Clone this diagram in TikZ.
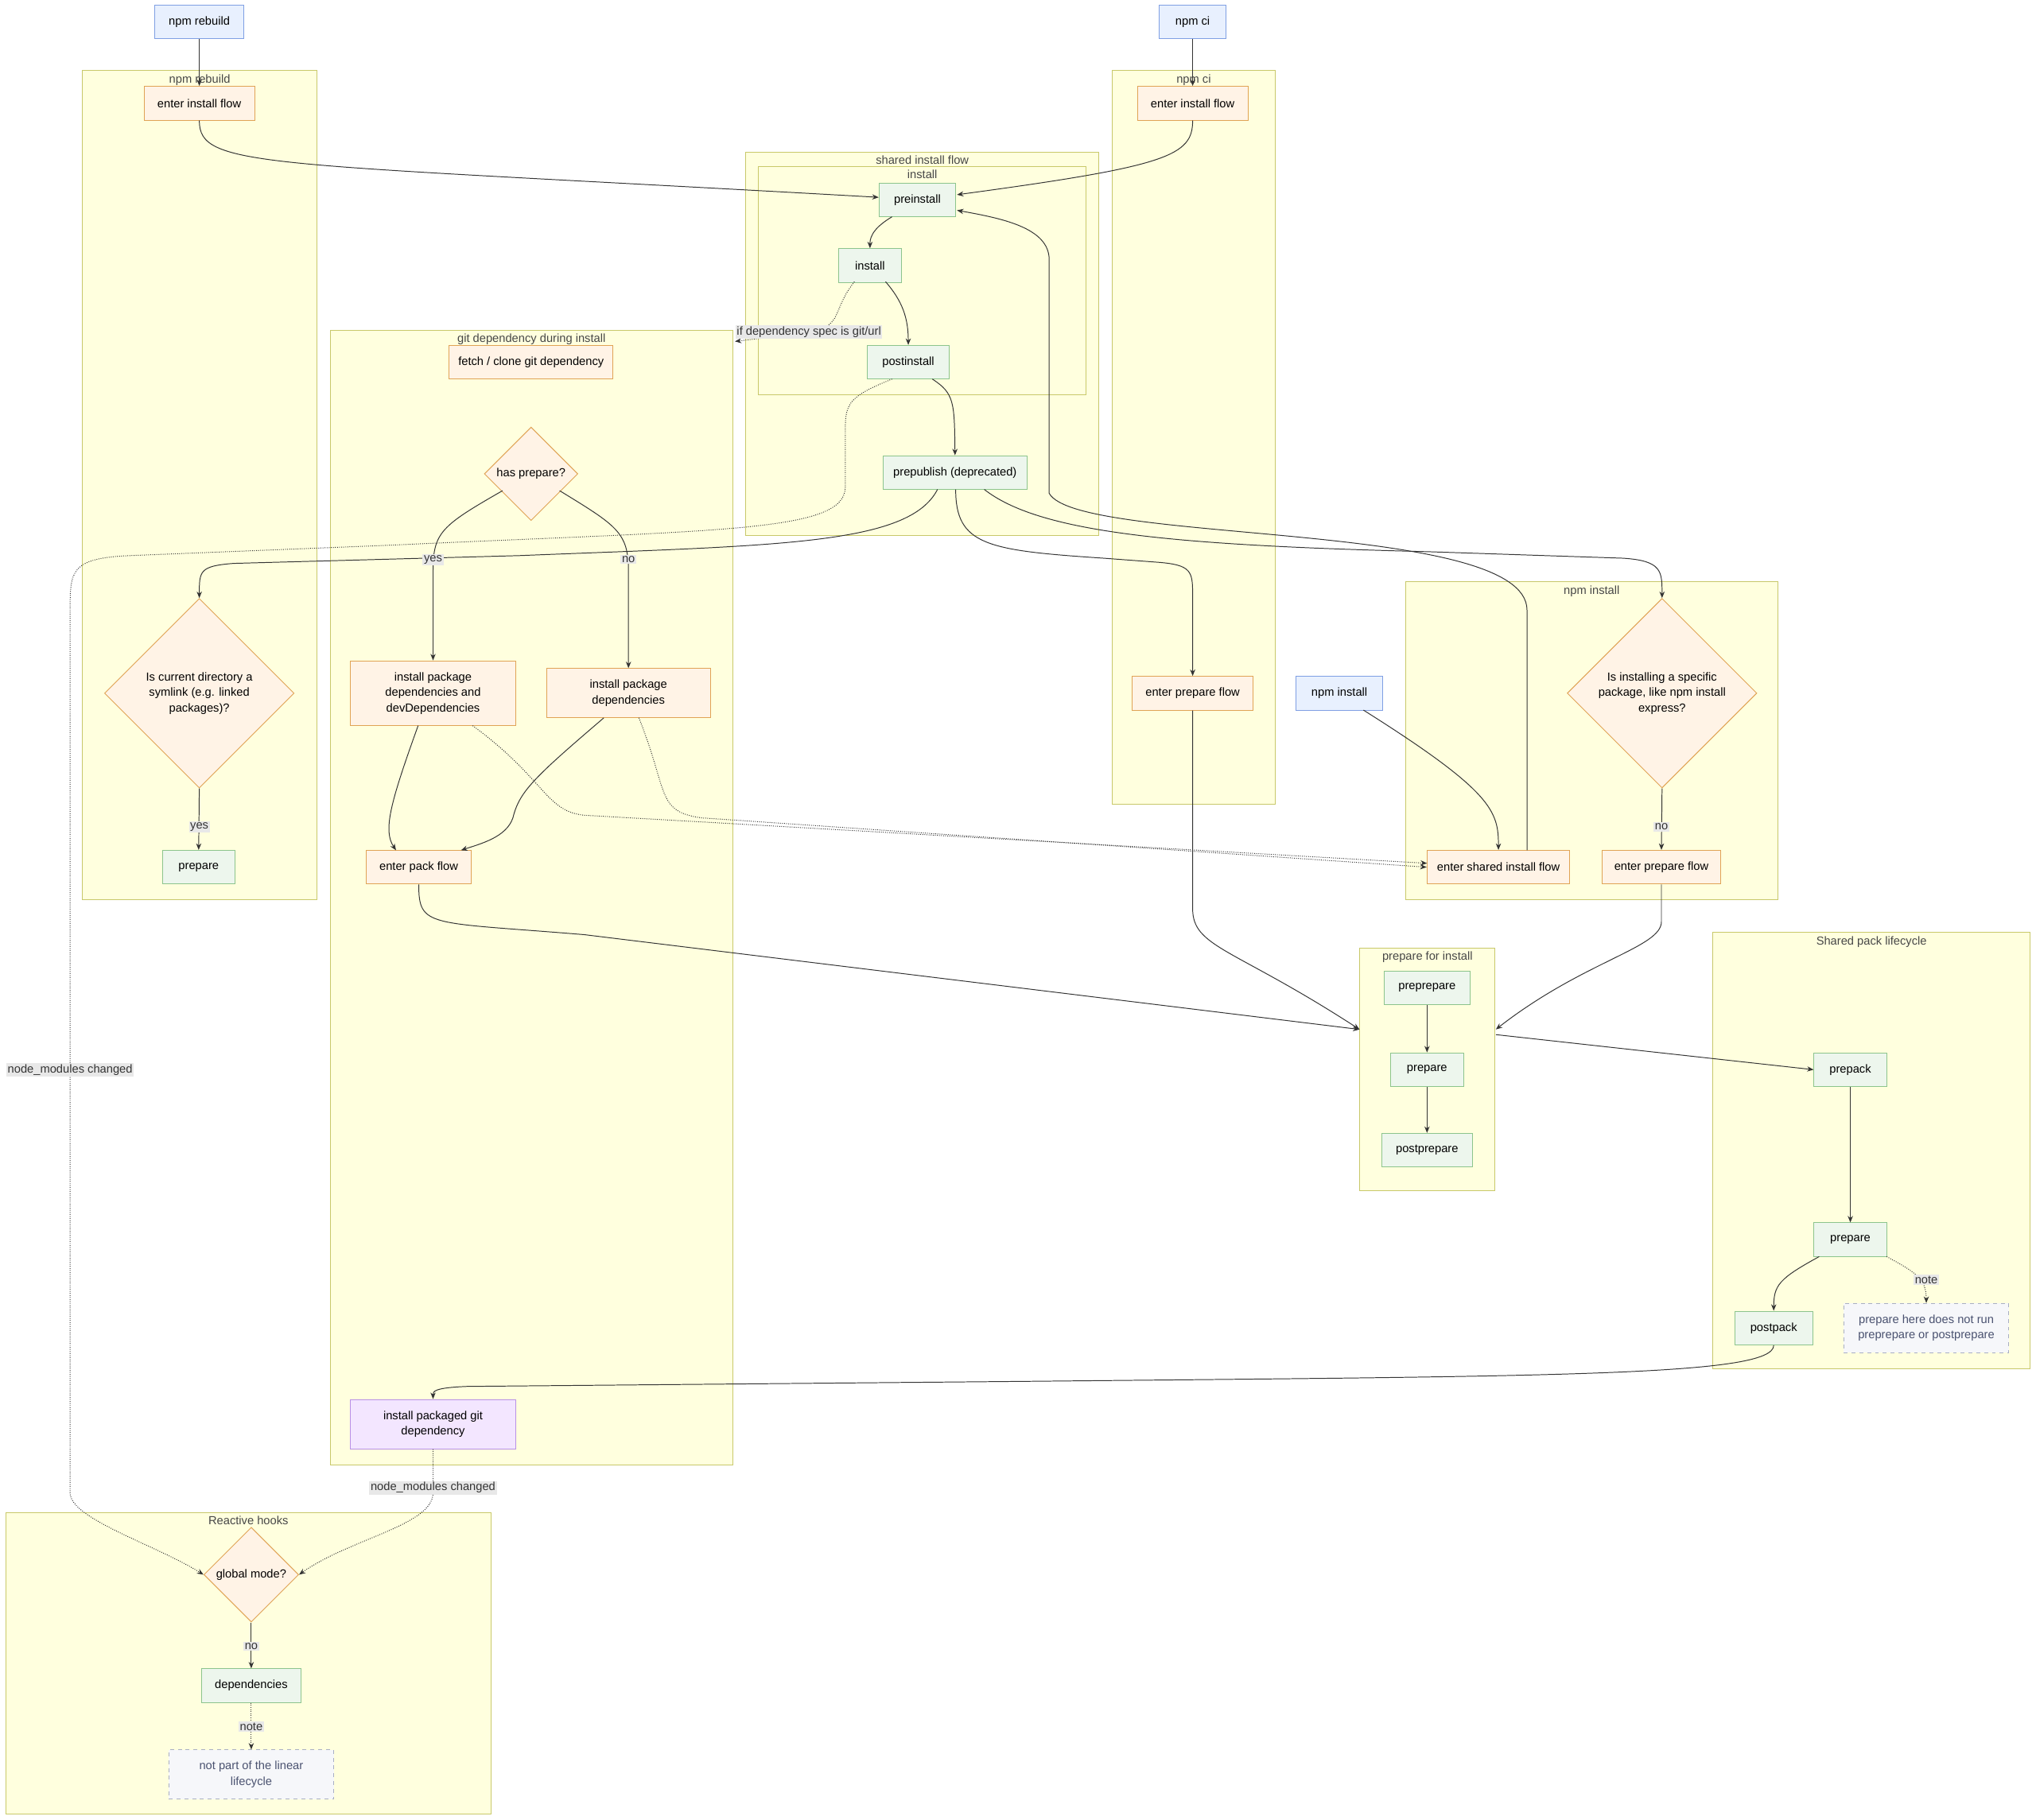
\documentclass[tikz,border=0pt]{standalone}
\usepackage{fontspec}
\setmainfont{Liberation Sans}
\usetikzlibrary{shapes.geometric,arrows.meta}
\definecolor{clf}{HTML}{FFFFDE}\definecolor{cls}{HTML}{C8C86A}
\definecolor{gf}{HTML}{EDF6ED}\definecolor{gs}{HTML}{8CC48C}
\definecolor{of}{HTML}{FFF3E6}\definecolor{os}{HTML}{E0A355}
\definecolor{bf}{HTML}{E8F0FE}\definecolor{bs}{HTML}{7F9FE3}
\definecolor{pf}{HTML}{F3E6FF}\definecolor{ps}{HTML}{B890E6}
\definecolor{nf}{HTML}{F6F7FA}\definecolor{ns}{HTML}{A8AEC4}\definecolor{nt}{HTML}{4A5270}
\definecolor{lb}{HTML}{E8E8E8}\definecolor{ln}{HTML}{333333}
\tikzset{
 base/.style={font=\fontsize{9}{12}\selectfont, inner sep=0pt, align=center, minimum height=26pt, line width=0.6pt},
 gbox/.style={base, draw=gs, fill=gf},
 obox/.style={base, draw=os, fill=of},
 bbox/.style={base, draw=bs, fill=bf},
 pbox/.style={base, draw=ps, fill=pf},
 nbox/.style={base, draw=ns, fill=nf, dashed, text=nt},
 dia/.style={base, draw=os, fill=of, shape=diamond, aspect=1},
 cluster/.style={draw=cls, fill=clf, line width=0.6pt, anchor=north west, inner sep=0pt},
 ctitle/.style={font=\fontsize{9}{11}\selectfont, text=ln!90, anchor=north, inner sep=0pt},
 lab/.style={font=\fontsize{9}{11}\selectfont, fill=lb, inner sep=1pt, text=ln},
 ed/.style={draw=ln, line width=0.6pt, -{Stealth[length=5pt,width=4pt]}},
 dt/.style={ed, densely dotted},
}
\newcommand\clus[6]{\node[cluster, minimum width=#4pt, minimum height=#5pt] (#1) at (#2,#3) {};
 \node[ctitle] at ($(#1.north)+(0,-3pt)$) {#6};}
\usetikzlibrary{calc}
\begin{document}
\begin{tikzpicture}[x=1pt,y=-1pt]
\useasboundingbox (0,0) rectangle (1568,1402);
\fill[white] (0,0) rectangle (1568,1402);
\clus{crb}{63}{54}{181}{639}{npm rebuild}
\clus{cci}{856}{54}{126}{565}{npm ci}
\clus{csh}{574}{117}{272}{295}{shared install flow}
\clus{cin}{584}{128}{252}{176}{install}
\clus{cgit}{254}{254}{310}{874}{git dependency during install}
\clus{cni}{1082}{448}{287}{245}{npm install}
\clus{cpr}{1047}{730}{104}{187}{prepare for install}
\clus{cpk}{1319}{718}{244}{336}{Shared pack lifecycle}
\clus{crh}{4}{1165}{374}{232}{Reactive hooks}

\node[bbox, minimum width=69pt] (nrb) at (153.5,17) {npm rebuild};
\node[bbox, minimum width=51pt] (nci) at (918.5,17) {npm ci};
\node[obox, minimum width=85pt] (rbe) at (153.5,79.5) {enter install flow};
\node[obox, minimum width=85pt] (cie) at (918.5,79.5) {enter install flow};
\node[gbox, minimum width=59pt] (pre) at (706.5,154) {preinstall};
\node[gbox, minimum width=48pt] (ins) at (670,204.5) {install};
\node[gbox, minimum width=63pt] (post) at (699.5,279) {postinstall};
\node[gbox, minimum width=111pt] (pub) at (735.5,364) {prepublish (deprecated)};
\node[obox, minimum width=126pt] (fetch) at (409,279) {fetch / clone git dependency};
\node[dia, minimum width=72pt, minimum height=72pt] (hp) at (409,365) {has prepare?};
\node[obox, minimum width=127pt, minimum height=50pt] (idev) at (333.5,534) {install package\\dependencies and\\devDependencies};
\node[obox, minimum width=126pt, minimum height=38pt] (idep) at (484,534) {install package\\dependencies};
\node[obox, minimum width=81pt] (pack) at (322.5,668) {enter pack flow};
\node[pbox, minimum width=127pt, minimum height=38pt] (igit) at (333.5,1097) {install packaged git\\dependency};
\node[dia, minimum width=146pt, minimum height=146pt] (sym) at (153.5,534) {Is current directory a\\symlink (e.g. linked\\packages)?};
\node[gbox, minimum width=56pt] (rbp) at (153,668) {prepare};
\node[obox, minimum width=93pt] (cipf) at (918.5,534) {enter prepare flow};
\node[bbox, minimum width=67pt] (nni) at (1031.5,534) {npm install};
\node[dia, minimum width=146pt, minimum height=146pt] (spec) at (1280,534) {Is installing a specific\\package, like npm install\\express?};
\node[obox, minimum width=110pt] (shf) at (1154,668) {enter shared install flow};
\node[obox, minimum width=91pt] (nipf) at (1279.5,668) {enter prepare flow};
\node[gbox, minimum width=66pt] (pp) at (1099,761) {preprepare};
\node[gbox, minimum width=56pt] (p2) at (1099,824) {prepare};
\node[gbox, minimum width=70pt] (pop) at (1099,886) {postprepare};
\node[gbox, minimum width=56pt] (pk) at (1425,824) {prepack};
\node[gbox, minimum width=56pt] (p3) at (1425,955) {prepare};
\node[gbox, minimum width=60pt] (ppk) at (1366,1023) {postpack};
\node[nbox, minimum width=127pt, minimum height=38pt] (n1) at (1483.5,1023) {prepare here does not run\\preprepare or postprepare};
\node[dia, minimum width=73pt, minimum height=73pt] (gm) at (193.5,1213) {global mode?};
\node[gbox, minimum width=77pt] (deps) at (193.5,1298.5) {dependencies};
\node[nbox, minimum width=127pt, minimum height=38pt] (n2) at (193.5,1367) {not part of the linear\\lifecycle};

\coordinate (gitin) at (566,263);
\coordinate (prW) at (1047,793);
\coordinate (prE) at (1152,793);
\coordinate (prO) at (1152,797);

\draw[ed] (nrb) -- (rbe);
\draw[ed] (nci) -- (cie);
\draw[ed] (rbe.south) .. controls (153.5,130) and (200,125) .. (pre.west |- 0,152);
\draw[ed] (cie.south) .. controls (918.5,120) and (900,128) .. (737,150);
\draw[ed] (687,167) .. controls (670,177) and (670,185) .. (ins.north);
\draw[ed] (682,217) .. controls (695,232) and (699.5,245) .. (post.north);
\draw[dt] (658,217) .. controls (640,240) and (650,250) .. (624,256) -- (gitin) node[lab, pos=0.05, anchor=west, xshift=4pt] {};
\node[lab] at (623,256) {if dependency spec is git/url};
\draw[ed] (718,292) .. controls (735,303) and (735,310) .. (pub.north);
\draw[dt] (687,292) .. controls (655,305) and (651,310) .. (651,330) -- (651,375) .. controls (651,410) and (560,408) .. (300,420) -- (100,428) .. controls (54,430) and (54,440) .. (54,470) -- (54,1150) .. controls (54,1170) and (120,1190) .. (gm.west);
\node[lab] at (54,824) {node\_modules changed};
\draw[ed] (722,377) .. controls (700,420) and (600,420) .. (400,428) -- (180,434) .. controls (153.5,436) and (153.5,440) .. (sym.north);
\draw[ed] (736,377) .. controls (736,420) and (760,424) .. (850,430) -- (890,433) .. controls (918.5,435) and (918.5,440) .. (918.5,460) -- (cipf.north);
\draw[ed] (758,377) .. controls (800,410) and (900,420) .. (1100,425) -- (1250,430) .. controls (1280,432) and (1280,440) .. (spec.north);
\draw[ed] (1176,655) -- (1176,470) .. controls (1176,400) and (830,420) .. (808,380) -- (808,200) .. controls (808,175) and (770,168) .. (737,162);
\draw[ed] (387,378) .. controls (340,405) and (333.5,410) .. (333.5,440) -- (idev.north);
\draw[ed] (431,378) .. controls (475,405) and (484,410) .. (484,440) -- (idep.north);
\node[lab] at (333.5,431) {yes};
\node[lab] at (484,431) {no};
\draw[ed] (322,559) .. controls (300,620) and (295,640) .. (305,655);
\draw[ed] (465,553) .. controls (410,600) and (400,610) .. (395,630) .. controls (390,645) and (370,650) .. (355,655);
\draw[dt] (364,559) .. controls (420,600) and (420,625) .. (450,628) -- (1099,665);
\draw[dt] (492,553) .. controls (515,610) and (505,625) .. (540,630) -- (shf.west);
\draw[ed] (sym.south) -- (rbp.north);
\node[lab] at (153.5,637) {yes};
\draw[ed] (1050,547) .. controls (1150,610) and (1154,625) .. (shf.north);
\draw[ed] (spec.south) -- (nipf.north);
\node[lab] at (1279.5,637) {no};
\draw[ed] (pack.south) .. controls (322.5,715) and (330,710) .. (450,720) -- (prW);
\draw[ed] (cipf.south) -- (918.5,700) .. controls (918.5,730) and (950,730) .. (prW);
\draw[ed] (nipf.south) -- (1279.5,710) .. controls (1279.5,730) and (1220,740) .. (prE);
\draw[ed] (prO) -- (pk.west);
\draw[ed] (pp) -- (p2);
\draw[ed] (p2) -- (pop);
\draw[ed] (pk) -- (p3);
\draw[ed] (1401,968) .. controls (1370,985) and (1366,990) .. (ppk.north);
\draw[dt] (1453,968) .. controls (1475,980) and (1483.5,985) .. (n1.north);
\node[lab] at (1483.5,986) {note};
\draw[ed] (ppk.south) .. controls (1366,1060) and (1200,1060) .. (800,1064) -- (360,1068) .. controls (333.5,1069) and (333.5,1072) .. (igit.north);
\draw[dt] (igit.south) -- (333.5,1150) .. controls (333.5,1175) and (270,1185) .. (gm.east);
\node[lab] at (333.5,1146) {node\_modules changed};
\draw[ed] (gm.south) -- (deps.north);
\node[lab] at (193.5,1268) {no};
\draw[dt] (deps.south) -- (n2.north);
\node[lab] at (193.5,1330) {note};
\end{tikzpicture}
\end{document}
